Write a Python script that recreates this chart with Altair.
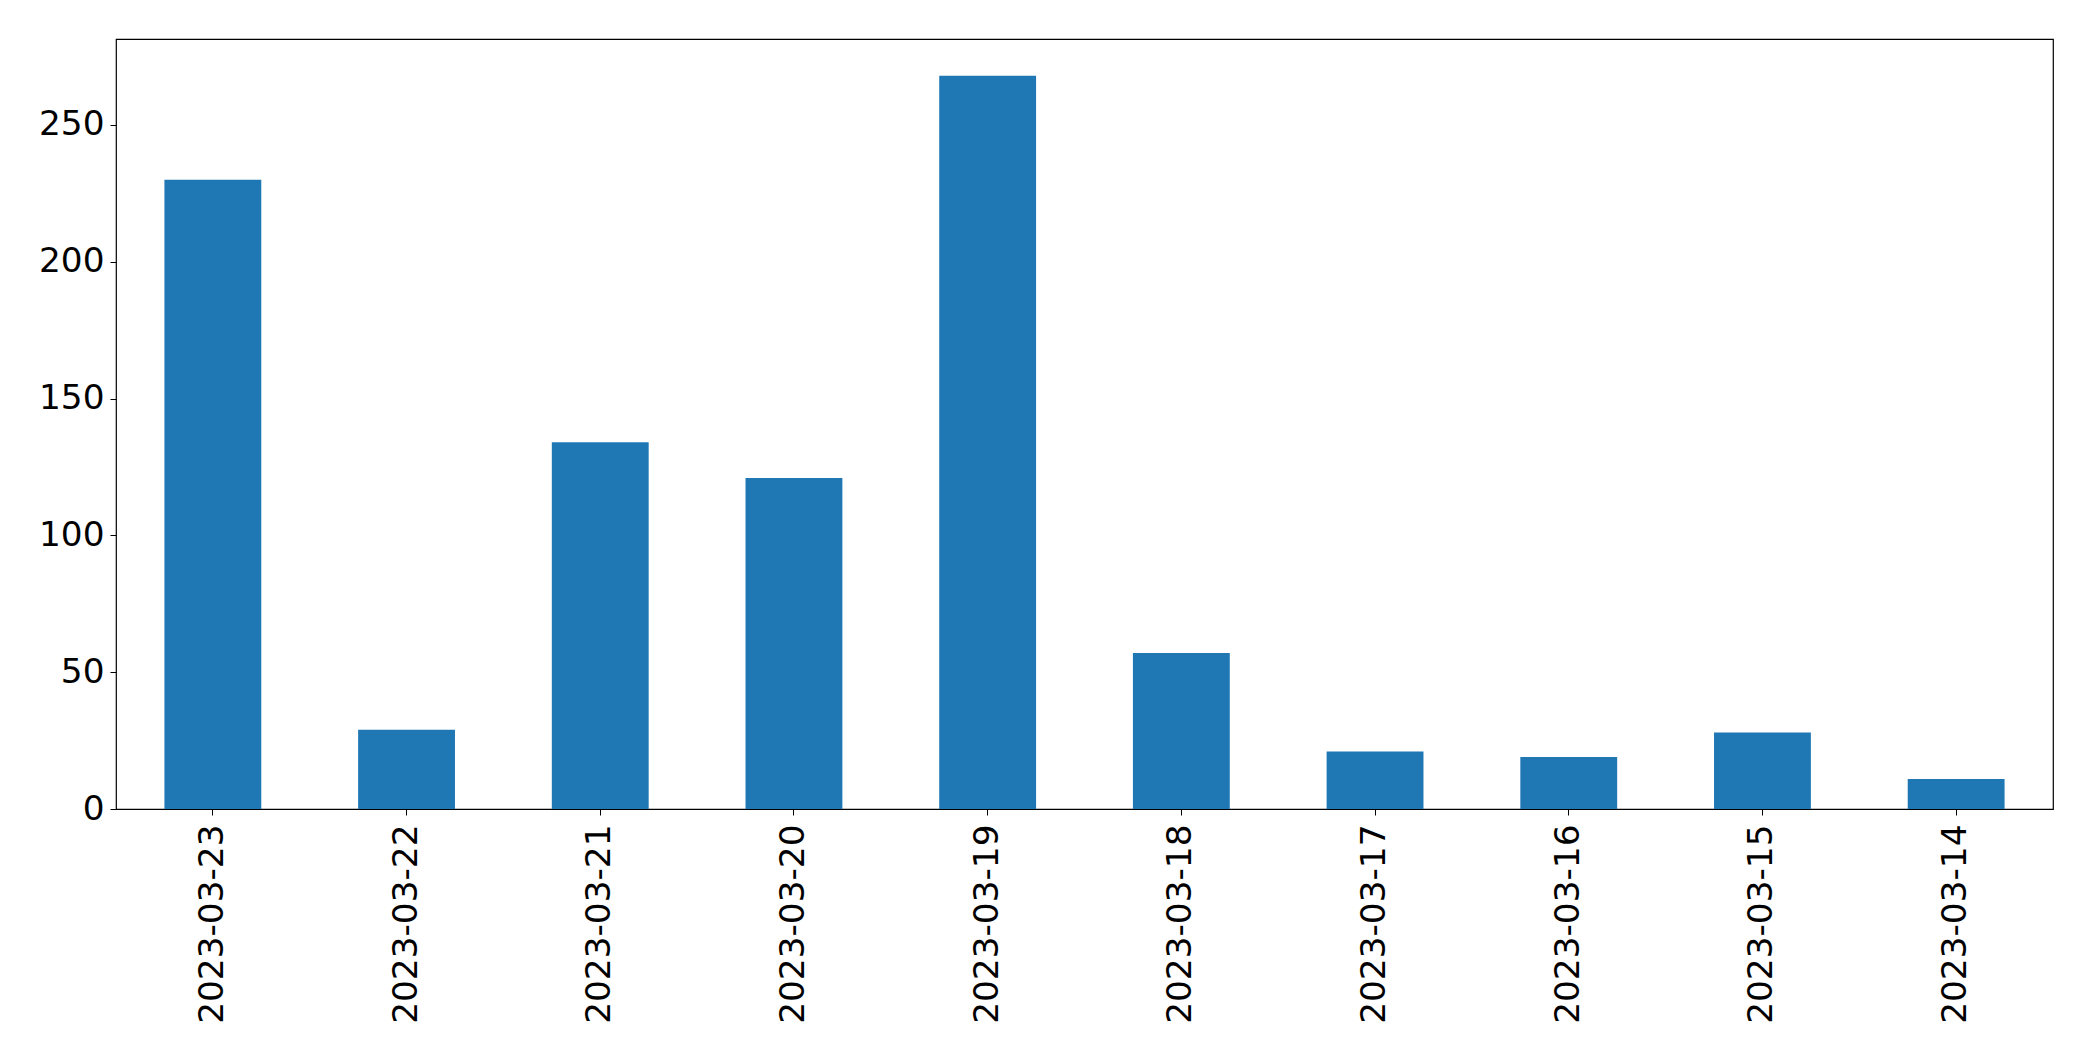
import altair as alt
import pandas as pd

dates = ["2023-03-23", "2023-03-22", "2023-03-21", "2023-03-20", "2023-03-19",
         "2023-03-18", "2023-03-17", "2023-03-16", "2023-03-15", "2023-03-14"]
counts = [230, 29, 134, 121, 268, 57, 21, 19, 28, 11]
y_ticks = [0, 50, 100, 150, 200, 250]

df = pd.DataFrame({"date": dates, "count": counts})

FONT = "DejaVu Sans"
FS = 34.3

chart = alt.Chart(df).mark_bar(color="#1f77b4").encode(
    x=alt.X("date:N", sort=None, title=None,
            scale=alt.Scale(paddingInner=0.5, paddingOuter=0.25),
            axis=alt.Axis(labelAngle=270, labelFontSize=FS, labelFont=FONT,
                          labelColor="black", tickColor="black", tickSize=6,
                          labelPadding=9, domain=False, tickWidth=1, labelLimit=0)),
    y=alt.Y("count:Q", title=None,
            scale=alt.Scale(domain=[0, 281.4], nice=False, zero=True),
            axis=alt.Axis(values=y_ticks, labelFontSize=FS, labelFont=FONT,
                          labelColor="black", tickColor="black", tickSize=6,
                          labelPadding=6, domain=False, grid=False, tickWidth=1)),
).properties(
    width=1937, height=770,
    background="white",
    autosize=alt.AutoSizeParams(type="none"),
    padding={"left": 108, "top": 31, "right": 30, "bottom": 240},
).configure_view(
    stroke="black", strokeWidth=1.2,
)

chart.save("out.html", embed_options={"renderer": "svg", "actions": False})
